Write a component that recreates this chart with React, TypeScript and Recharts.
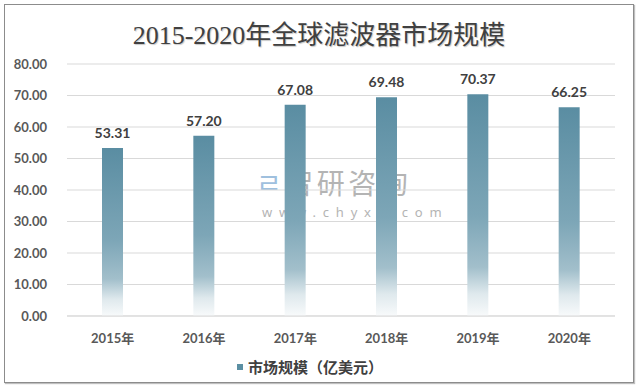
import { BarChart, Bar, XAxis, YAxis, CartesianGrid, Legend, LabelList } from 'recharts'

const years = ['2015年', '2016年', '2017年', '2018年', '2019年', '2020年']
const marketSize = [53.31, 57.2, 67.08, 69.48, 70.37, 66.25]
const yTicks = [0, 10, 20, 30, 40, 50, 60, 70, 80]
const seriesName = '市场规模（亿美元）'
const title = '2015-2020年全球滤波器市场规模'

const data = years.map((year, i) => ({ year, value: marketSize[i] }))

const tickFont = { fontSize: 13, fontWeight: 700, fill: '#595959', fontFamily: 'Lato, "Noto Sans CJK SC", sans-serif' }

function LegendBox() {
  return (
    <div style={{ display: 'flex', justifyContent: 'center', alignItems: 'center', gap: 5, fontFamily: '"Noto Sans CJK SC", sans-serif' }}>
      <span style={{ width: 6, height: 6, background: '#5b8fa3', display: 'inline-block' }} />
      <span style={{ fontSize: 15, fontWeight: 700, color: '#404040' }}>{seriesName}</span>
    </div>
  )
}

export default function App() {
  return (
    <div style={{ position: 'absolute', left: 0, top: 0, width: 638, height: 388, background: '#fff' }}>
      <div
        style={{
          position: 'absolute', left: 4, top: 4, width: 628, height: 377,
          border: '1px solid #8c8c8c', boxShadow: '1px 1px 1px #bfbfbf',
        }}
      />
      <div
        style={{
          position: 'absolute', left: 0, top: 14, width: 638, textAlign: 'center',
          fontSize: 26, color: '#404040', fontFamily: '"Liberation Serif", "Noto Sans CJK SC", serif',
          textShadow: '1px 1px 1px #c8c8c8',
        }}
      >
        {title}
      </div>
      {/* watermark */}
      <div
        style={{
          position: 'absolute', left: 256, top: 167, height: 30, lineHeight: '30px', fontSize: 28,
          letterSpacing: 3.5, color: '#b4b4b4', fontFamily: '"Noto Sans CJK SC", sans-serif', whiteSpace: 'nowrap',
        }}
      >
        <span style={{ color: '#9fc0de' }}>ㄹ</span>智研咨询
      </div>
      <div
        style={{
          position: 'absolute', left: 262, top: 205, height: 14, lineHeight: '14px', fontSize: 13,
          letterSpacing: 6.8, color: '#b4b4b4', fontFamily: '"Noto Sans", sans-serif', whiteSpace: 'nowrap',
        }}
      >
        www.chyxx.com
      </div>
      <div style={{ position: 'absolute', left: 0, top: 0 }}>
        <BarChart width={638} height={388} data={data} margin={{ top: 64, right: 23, bottom: 8, left: 5 }}>
          <defs>
            <linearGradient id="barFade" x1="0" y1="0" x2="0" y2="1">
              <stop offset="0" stopColor="#5a8da2" />
              <stop offset="0.55" stopColor="#7da6b7" />
              <stop offset="0.78" stopColor="#a2bfcb" />
              <stop offset="0.9" stopColor="#dfe9ed" />
              <stop offset="1" stopColor="#f8fafb" />
            </linearGradient>
          </defs>
          <CartesianGrid vertical={false} stroke="#d9d9d9" />
          <XAxis
            dataKey="year"
            tick={tickFont}
            tickLine={false}
            axisLine={{ stroke: '#d9d9d9' }}
            tickMargin={12}
            height={40}
          />
          <YAxis
            domain={[0, 80]}
            ticks={yTicks}
            tickFormatter={(v: number) => v.toFixed(2)}
            tick={tickFont}
            tickLine={false}
            axisLine={false}
            tickMargin={14}
            width={62}
          />
          <Legend verticalAlign="bottom" height={24} content={() => <LegendBox />} />
          <Bar dataKey="value" name={seriesName} fill="url(#barFade)" barSize={21} isAnimationActive={false}>
            <LabelList
              dataKey="value"
              position="top"
              offset={10}
              formatter={(v: number) => v.toFixed(2)}
              style={{ fontSize: 14, fontWeight: 700, fill: '#404040', fontFamily: 'Lato, sans-serif' }}
            />
          </Bar>
        </BarChart>
      </div>
    </div>
  )
}
